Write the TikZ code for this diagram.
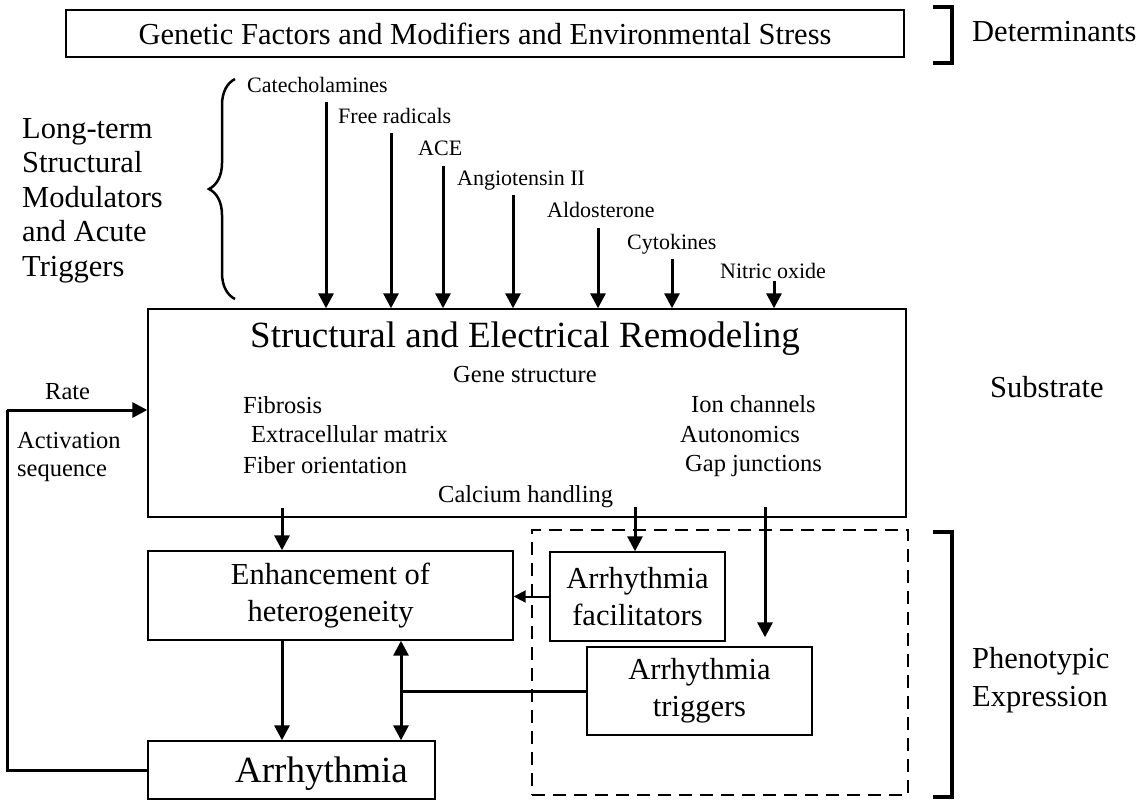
\documentclass[tikz,border=0pt]{standalone}
\usepackage{fontspec}
\setmainfont{Liberation Serif}
\usetikzlibrary{arrows.meta,decorations.pathreplacing,calc}
\begin{document}
\begin{tikzpicture}[x=1pt,y=-1pt,
  lbl/.style={inner sep=0pt, anchor=base west},
  fbig/.style={font=\fontsize{30.5}{37}\selectfont},
  fhuge/.style={font=\fontsize{37}{42}\selectfont},
  fmid/.style={font=\fontsize{24.5}{28}\selectfont},
  fsmall/.style={font=\fontsize{22}{26}\selectfont},
  box/.style={draw, line width=1.4pt, inner sep=0pt, align=center},
  arr/.style={line width=3pt, -{Triangle[width=15pt,length=15pt]}},
  thinarr/.style={line width=2pt, -{Triangle[width=12pt,length=12pt]}},
  darr/.style={line width=3pt, {Triangle[width=15pt,length=15pt]}-{Triangle[width=15pt,length=15pt]}},
  bracket/.style={line width=3.5pt},
  grpbox/.style={draw, line width=1.4pt, dash pattern=on 13pt off 8pt, inner sep=0pt}
]
\useasboundingbox (0,0) rectangle (1142,804);
\fill[white] (0,0) rectangle (1142,804);

% Determinants
\node[box, fbig, minimum width=838pt, minimum height=47pt] (gen) at (485,33.5)
  {Genetic Factors and Modifiers and Environmental Stress};
\draw[bracket] (933,7) -- (952,7) -- (952,63) -- (933,63);
\node[lbl, fbig] (det) at (972,41) {Determinants};

% Long-term modulators
\node[lbl, fbig] (lt1) at (22,138) {Long-term};
\node[lbl, fbig] (lt2) at (22,172.5) {Structural};
\node[lbl, fbig] (lt3) at (22,207) {Modulators};
\node[lbl, fbig] (lt4) at (22,241.5) {and Acute};
\node[lbl, fbig] (lt5) at (22,276) {Triggers};
\draw[line width=2.5pt, decorate, decoration={brace, amplitude=26pt}] (235,299) -- (235,79);

% Main box
\node[box, minimum width=758pt, minimum height=208pt] (main) at (527,413) {};
\node[lbl, fhuge] (title) at (250,347) {Structural and Electrical Remodeling};
\node[lbl, fmid] (gene) at (453,382) {Gene structure};
\node[lbl, fmid] (fib) at (243,413) {Fibrosis};
\node[lbl, fmid] (ecm) at (251,442) {Extracellular matrix};
\node[lbl, fmid] (fo) at (243,473) {Fiber orientation};
\node[lbl, fmid] (cal) at (438,502) {Calcium handling};
\node[lbl, fmid] (ion) at (691,412) {Ion channels};
\node[lbl, fmid] (aut) at (680,442) {Autonomics};
\node[lbl, fmid] (gap) at (685,471) {Gap junctions};
\node[lbl, fbig] (sub) at (990,397) {Substrate};

% modulator labels and arrows
\node[lbl, fsmall] (l1) at (247,92) {Catecholamines};
\node[lbl, fsmall] (l2) at (338,123) {Free radicals};
\node[lbl, fsmall] (l3) at (418,155) {ACE};
\node[lbl, fsmall] (l4) at (457,185) {Angiotensin II};
\node[lbl, fsmall] (l5) at (547,217) {Aldosterone};
\node[lbl, fsmall] (l6) at (627,249) {Cytokines};
\node[lbl, fsmall] (l7) at (720,278) {Nitric oxide};
\coordinate (s1) at (326,102);
\coordinate (s2) at (391,133);
\coordinate (s3) at (443,166);
\coordinate (s4) at (513,195);
\coordinate (s5) at (598,228);
\coordinate (s6) at (672,259);
\coordinate (s7) at (774,281);
\foreach \s in {s1,s2,s3,s4,s5,s6,s7}
  \draw[arr] (\s) -- (\s |- main.north);

% Phenotypic expression
\node[grpbox, minimum width=376pt, minimum height=265pt] (grp) at (720,662.5) {};
\node[box, fbig, minimum width=365pt, minimum height=89pt] (enh) at (330.5,595.5)
  {Enhancement of\\heterogeneity};
\node[box, minimum width=287pt, minimum height=58pt] (arr) at (291.5,770) {};
\node[lbl, fhuge] (arrt) at (235,782) {Arrhythmia};
\node[box, fbig, minimum width=175pt, minimum height=89pt] (fac) at (637.5,596.5)
  {Arrhythmia\\facilitators};
\node[box, fbig, minimum width=225pt, minimum height=88pt] (trig) at (699.5,691)
  {Arrhythmia\\triggers};
\draw[bracket] (933,532) -- (952,532) -- (952,797) -- (933,797);
\node[lbl, fbig] (ph1) at (972,668) {Phenotypic};
\node[lbl, fbig] (ph2) at (972,706) {Expression};

% connectors
\coordinate (m1) at (282,508);
\coordinate (m2) at (635,507);
\coordinate (m3) at (765,507);
\coordinate (x2) at (401,700);
\draw[arr] (m1) -- (m1 |- enh.north);
\draw[arr] (m2) -- (m2 |- fac.north);
\draw[arr, shorten >=9pt] (m3) -- (m3 |- trig.north);
\draw[arr] (m1 |- enh.south) -- (m1 |- arr.north);
\draw[darr] (x2 |- enh.south) -- (x2 |- arr.north);
\draw[line width=3pt] (trig.west) -- (trig.west -| x2);
\draw[thinarr] (fac.west) -- (fac.west -| enh.east);

% feedback
\coordinate (fb) at (7,410);
\draw[line width=3pt] (arr.west) -| (fb);
\draw[arr] (fb) -- (fb -| main.west);
\node[lbl, fmid] (rate) at (45,399) {Rate};
\node[lbl, fmid] (act) at (17,448) {Activation};
\node[lbl, fmid] (seq) at (17,476) {sequence};
\end{tikzpicture}
\end{document}
